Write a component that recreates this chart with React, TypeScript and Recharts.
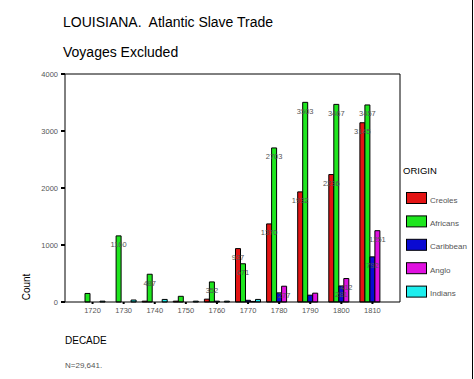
import React from 'react';
import { BarChart, Bar, XAxis, YAxis, LabelList, ReferenceLine } from 'recharts';

const decades = ['1720', '1730', '1740', '1750', '1760', '1770', '1780', '1790', '1800', '1810'];
const creoles = [0, 0, 15, 15, 50, 937, 1370, 1932, 2236, 3145];
const africans = [150, 1160, 487, 100, 352, 671, 2703, 3503, 3467, 3457];
const caribbean = [0, 0, 0, 0, 15, 30, 160, 120, 281, 792];
const anglo = [0, 0, 0, 0, 0, 10, 277, 155, 412, 1251];
const indians = [15, 35, 45, 15, 15, 45, 0, 0, 0, 0];
const yTicks = [0, 1000, 2000, 3000, 4000];
const seriesKeys = ['creoles', 'africans', 'caribbean', 'anglo', 'indians'];
const seriesNames = ['Creoles', 'Africans', 'Caribbean', 'Anglo', 'Indians'];
const seriesColors = ['#e31414', '#1ee61e', '#0a0ad2', '#e010e0', '#1eeeee'];

const data = decades.map((d, i) => ({
  decade: d,
  creoles: creoles[i],
  africans: africans[i],
  caribbean: caribbean[i],
  anglo: anglo[i],
  indians: indians[i],
}));

const FONT = '"Liberation Sans", Arial, sans-serif';

const fmt = (v: any) => (typeof v === 'number' && v >= 250 ? String(v) : '');

export default function App() {
  return (
    <div style={{ position: 'absolute', left: 0, top: 0, width: 474, height: 379, background: '#fff', fontFamily: FONT }}>
      <BarChart
        width={474}
        height={379}
        data={data}
        margin={{ top: 74, right: 74, bottom: 57, left: 35 }}
        barCategoryGap={3}
        barGap={0}
      >
        <XAxis
          dataKey="decade"
          interval={0}
          padding={{ left: 12, right: 12 }}
          height={20}
          axisLine={{ stroke: '#000', strokeWidth: 1 }}
          tickLine={{ stroke: '#000', strokeWidth: 2 }}
          tickSize={2}
          tickMargin={4}
          tick={{ fontSize: 7.5, fill: '#555', fontFamily: FONT }}
        />
        <YAxis
          width={30}
          domain={[0, 4000]}
          ticks={yTicks}
          interval={0}
          axisLine={{ stroke: '#000', strokeWidth: 1 }}
          tickLine={{ stroke: '#000', strokeWidth: 2 }}
          tickSize={4}
          tickMargin={3}
          tick={{ fontSize: 7.5, fill: '#555', fontFamily: FONT }}
        />
        <ReferenceLine y={4000} stroke="#000" strokeWidth={1} ifOverflow="visible" />
        {seriesKeys.map((k, i) => (
          <Bar key={k} dataKey={k} name={seriesNames[i]} fill={seriesColors[i]} stroke="#000" strokeWidth={1} isAnimationActive={false}>
            <LabelList
              dataKey={k}
              position="insideTop"
              offset={6}
              formatter={fmt}
              style={{ fontSize: 7.5, fill: '#555', fontFamily: FONT }}
            />
          </Bar>
        ))}
      </BarChart>
      <svg width={474} height={379} style={{ position: 'absolute', left: 0, top: 0, pointerEvents: 'none' }}>
        <line x1={400} y1={74} x2={400} y2={302} stroke="#000" strokeWidth={1} />
        <line x1={472.5} y1={0} x2={472.5} y2={379} stroke="#000" strokeWidth={1} />
        <text x={63} y={27} fontSize={14} fontFamily={FONT} fill="#000" style={{ whiteSpace: 'pre' }}>
          {'LOUISIANA.  Atlantic Slave Trade'}
        </text>
        <text x={63} y={57} fontSize={14} fontFamily={FONT} fill="#000">Voyages Excluded</text>
        <text transform="translate(30,287) rotate(-90)" textAnchor="middle" fontSize={10} fontFamily={FONT} fill="#000">Count</text>
        <text x={65} y={344} fontSize={10} fontFamily={FONT} fill="#000">DECADE</text>
        <text x={65} y={368} fontSize={8} fontFamily={FONT} fill="#555">N=29,641.</text>
        <text x={403} y={174} fontSize={9.5} fontFamily={FONT} fill="#000">ORIGIN</text>
        {seriesNames.map((n, i) => (
          <g key={n}>
            <rect x={406.5} y={192.5 + i * 23.4} width={20} height={11} fill={seriesColors[i]} stroke="#000" strokeWidth={1} />
            <text x={430} y={202.5 + i * 23.4} fontSize={8} fontFamily={FONT} fill="#555">{n}</text>
          </g>
        ))}
      </svg>
    </div>
  );
}
